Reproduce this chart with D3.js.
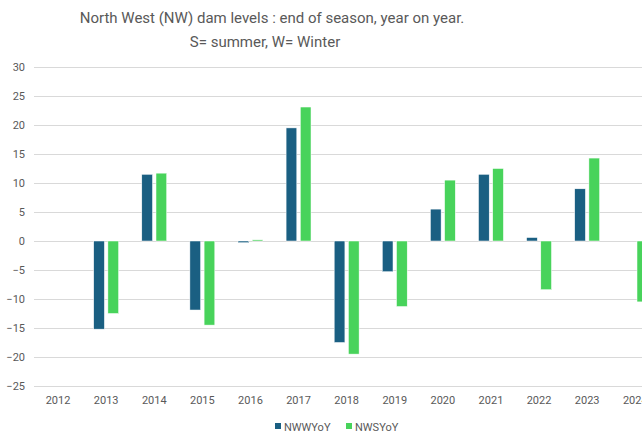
<!DOCTYPE html>
<html>
<head>
<meta charset="utf-8">
<script src="https://cdn.jsdelivr.net/npm/d3@7"></script>
<style>
  body { margin: 0; background: #fff; }
  text { font-family: Roboto, "Liberation Sans", sans-serif; fill: #595959; }
</style>
</head>
<body>
<div id="chart"></div>
<script>
// data
var years = ["2012", "2013", "2014", "2015", "2016", "2017", "2018", "2019", "2020", "2021", "2022", "2023", "2024"];
var nwwYoY = [null, -15.2, 11.5, -11.9, -0.3, 19.5, -17.5, -5.3, 5.5, 11.5, 0.6, 9.0, null];
var nwsYoY = [null, -12.5, 11.7, -14.5, 0.2, 23.1, -19.5, -11.3, 10.5, 12.5, -8.4, 14.3, -10.5];
var seriesNames = ["NWWYoY", "NWSYoY"];
var seriesColors = ["#1a5f82", "#48d35b"];
var yTicks = [-25, -20, -15, -10, -5, 0, 5, 10, 15, 20, 25, 30];

var width = 642, height = 435;
var left = 34, step = 48.1;

var svg = d3.select("#chart").append("svg")
    .attr("width", width)
    .attr("height", height);

var x = d3.scaleBand()
    .domain(years)
    .range([left, left + step * years.length]);

var xSub = d3.scaleBand()
    .domain(seriesNames)
    .range([0, x.bandwidth()])
    .paddingInner(0.246)
    .paddingOuter(0.816);

var y = d3.scaleLinear()
    .domain([-25, 30])
    .range([386, 67]);

// title
svg.append("text")
    .attr("x", 272).attr("y", 23)
    .attr("text-anchor", "middle")
    .style("font-size", "15px")
    .text("North West (NW) dam levels : end of season, year on year.");
svg.append("text")
    .attr("x", 265).attr("y", 47)
    .attr("text-anchor", "middle")
    .style("font-size", "15px")
    .text("S= summer, W= Winter");

// grid + y labels
var yAxis = d3.axisLeft(y)
    .tickValues(yTicks)
    .tickSize(-(width - left))
    .tickPadding(9);
var gy = svg.append("g")
    .attr("transform", "translate(" + left + ",0)")
    .call(yAxis);
gy.select(".domain").remove();
gy.selectAll(".tick line").attr("stroke", "#d9d9d9").attr("stroke-width", 1);
gy.selectAll(".tick text").style("font-size", "11px").attr("fill", "#595959");

// x labels
var xAxis = d3.axisBottom(x).tickSize(0).tickPadding(10);
var gx = svg.append("g")
    .attr("transform", "translate(0," + y(-25) + ")")
    .call(xAxis);
gx.select(".domain").remove();
gx.selectAll(".tick text").style("font-size", "11px").attr("fill", "#595959");

// bars
var rows = [];
years.forEach(function(yr, i) {
    rows.push({ year: yr, key: seriesNames[0], value: nwwYoY[i], color: seriesColors[0] });
    rows.push({ year: yr, key: seriesNames[1], value: nwsYoY[i], color: seriesColors[1] });
});

svg.selectAll(".bar")
    .data(rows.filter(function(d) { return d.value != null; }))
    .enter().append("rect")
    .attr("class", "bar")
    .attr("x", function(d) { return x(d.year) + xSub(d.key); })
    .attr("y", function(d) { return y(Math.max(0, d.value)); })
    .attr("width", xSub.bandwidth())
    .attr("height", function(d) { return Math.abs(y(d.value) - y(0)); })
    .attr("fill", function(d) { return d.color; })
    .attr("stroke", "#ffffff")
    .attr("stroke-width", 0.5);

// legend
var legend = svg.append("g");
var legendX = [275, 346];
seriesNames.forEach(function(name, i) {
    legend.append("rect")
        .attr("x", legendX[i]).attr("y", 423)
        .attr("width", 6).attr("height", 6)
        .attr("fill", seriesColors[i]);
    legend.append("text")
        .attr("x", legendX[i] + 9).attr("y", 431)
        .style("font-size", "11px")
        .text(name);
});
</script>
</body>
</html>
